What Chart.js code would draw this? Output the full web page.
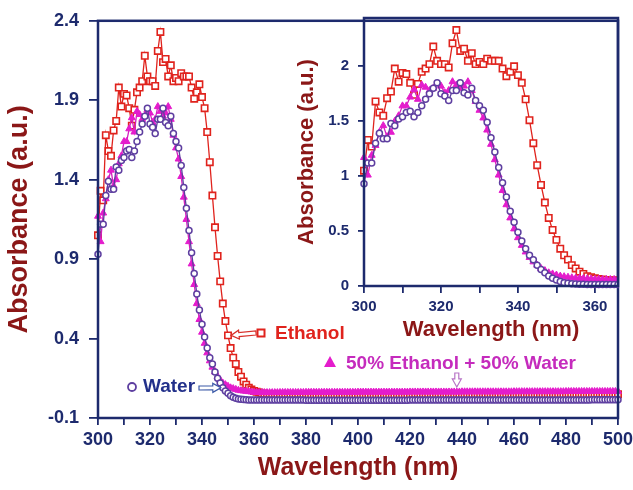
<!DOCTYPE html>
<html>
<head>
<meta charset="utf-8">
<script src="https://cdn.jsdelivr.net/npm/chart.js@4/dist/chart.umd.min.js"></script>
<style>
  html, body { margin: 0; padding: 0; background: #fff; }
  #wrap { position: relative; width: 633px; height: 490px; }
  #mainChart { position: absolute; left: 0; top: 0; }
  #insetChart { position: absolute; left: 280px; top: 0; }
</style>
</head>
<body>
<div id="wrap">
  <canvas id="mainChart" width="633" height="490"></canvas>
  <canvas id="insetChart" width="353" height="350"></canvas>
</div>
<script>
// UV-vis spectra, one reading per nm
const wavelengths = [
  300, 301, 302, 303, 304, 305, 306, 307, 308, 309, 310, 311, 312, 313, 314, 315, 316, 317, 318, 319,
  320, 321, 322, 323, 324, 325, 326, 327, 328, 329, 330, 331, 332, 333, 334, 335, 336, 337, 338, 339,
  340, 341, 342, 343, 344, 345, 346, 347, 348, 349, 350, 351, 352, 353, 354, 355, 356, 357, 358, 359,
  360, 361, 362, 363, 364, 365, 366, 367, 368, 369, 370, 371, 372, 373, 374, 375, 376, 377, 378, 379,
  380, 381, 382, 383, 384, 385, 386, 387, 388, 389, 390, 391, 392, 393, 394, 395, 396, 397, 398, 399,
  400, 401, 402, 403, 404, 405, 406, 407, 408, 409, 410, 411, 412, 413, 414, 415, 416, 417, 418, 419,
  420, 421, 422, 423, 424, 425, 426, 427, 428, 429, 430, 431, 432, 433, 434, 435, 436, 437, 438, 439,
  440, 441, 442, 443, 444, 445, 446, 447, 448, 449, 450, 451, 452, 453, 454, 455, 456, 457, 458, 459,
  460, 461, 462, 463, 464, 465, 466, 467, 468, 469, 470, 471, 472, 473, 474, 475, 476, 477, 478, 479,
  480, 481, 482, 483, 484, 485, 486, 487, 488, 489, 490, 491, 492, 493, 494, 495, 496, 497, 498, 499,
  500
];

const ethanolAbs = [
  1.05, 1.33, 1.27, 1.68, 1.58, 1.55, 1.71, 1.77, 1.98, 1.86,
  1.94, 1.93, 1.85, 1.74, 1.84, 1.95, 1.98, 2.02, 2.18, 2.05,
  2.02, 2.02, 1.99, 2.21, 2.33, 2.14, 2.16, 2.05, 2.12, 2.02,
  2.04, 2.02, 2.07, 2.05, 2.05, 2.05, 1.98, 1.91, 1.95, 2.00,
  1.92, 1.85, 1.70, 1.51, 1.30, 1.10, 0.92, 0.76, 0.62, 0.51,
  0.42, 0.34, 0.28, 0.24, 0.19, 0.16, 0.13, 0.11, 0.09, 0.08,
  0.070, 0.065, 0.060, 0.055, 0.052, 0.050, 0.050, 0.049, 0.048, 0.047,
  0.046, 0.046, 0.045, 0.045, 0.045, 0.045, 0.045, 0.045, 0.045, 0.045,
  0.045, 0.045, 0.045, 0.045, 0.045, 0.045, 0.045, 0.045, 0.045, 0.045,
  0.045, 0.045, 0.045, 0.045, 0.045, 0.045, 0.045, 0.045, 0.045, 0.045,
  0.045, 0.045, 0.045, 0.045, 0.045, 0.045, 0.045, 0.045, 0.045, 0.045,
  0.045, 0.045, 0.045, 0.045, 0.045, 0.045, 0.045, 0.045, 0.045, 0.045,
  0.045, 0.045, 0.045, 0.045, 0.045, 0.045, 0.045, 0.045, 0.045, 0.045,
  0.045, 0.045, 0.045, 0.045, 0.045, 0.045, 0.045, 0.045, 0.045, 0.045,
  0.046, 0.046, 0.046, 0.046, 0.046, 0.046, 0.046, 0.046, 0.046, 0.046,
  0.046, 0.046, 0.046, 0.046, 0.046, 0.046, 0.046, 0.046, 0.046, 0.046,
  0.047, 0.047, 0.047, 0.047, 0.047, 0.047, 0.047, 0.047, 0.047, 0.047,
  0.047, 0.047, 0.047, 0.047, 0.047, 0.047, 0.047, 0.047, 0.047, 0.047,
  0.048, 0.048, 0.048, 0.048, 0.048, 0.048, 0.048, 0.048, 0.048, 0.048,
  0.049, 0.049, 0.049, 0.049, 0.049, 0.049, 0.049, 0.049, 0.049, 0.049,
  0.050
];

const mixAbs = [
  1.17, 1.01, 1.19, 1.28, 1.40, 1.46, 1.36, 1.40, 1.50, 1.55,
  1.64, 1.64, 1.72, 1.79, 1.70, 1.83, 1.81, 1.78, 1.80, 1.84,
  1.82, 1.76, 1.78, 1.86, 1.83, 1.80, 1.82, 1.86, 1.78, 1.68,
  1.60, 1.53, 1.42, 1.29, 1.15, 1.01, 0.87, 0.74, 0.62, 0.52,
  0.44, 0.37, 0.31, 0.26, 0.22, 0.19, 0.16, 0.14, 0.12, 0.11,
  0.100, 0.090, 0.085, 0.080, 0.075, 0.072, 0.070, 0.068, 0.066, 0.064,
  0.062, 0.061, 0.060, 0.060, 0.060, 0.060, 0.060, 0.060, 0.060, 0.060,
  0.061, 0.061, 0.061, 0.061, 0.061, 0.061, 0.061, 0.061, 0.061, 0.061,
  0.062, 0.062, 0.062, 0.062, 0.062, 0.062, 0.062, 0.062, 0.062, 0.062,
  0.062, 0.062, 0.062, 0.062, 0.062, 0.062, 0.062, 0.062, 0.062, 0.062,
  0.063, 0.063, 0.063, 0.063, 0.063, 0.063, 0.063, 0.063, 0.063, 0.063,
  0.063, 0.063, 0.063, 0.063, 0.063, 0.063, 0.063, 0.063, 0.063, 0.063,
  0.064, 0.064, 0.064, 0.064, 0.064, 0.064, 0.064, 0.064, 0.064, 0.064,
  0.064, 0.064, 0.064, 0.064, 0.064, 0.064, 0.064, 0.064, 0.064, 0.064,
  0.065, 0.065, 0.065, 0.065, 0.065, 0.065, 0.065, 0.065, 0.065, 0.065,
  0.065, 0.065, 0.065, 0.065, 0.065, 0.065, 0.065, 0.065, 0.065, 0.065,
  0.066, 0.066, 0.066, 0.066, 0.066, 0.066, 0.066, 0.066, 0.066, 0.066,
  0.066, 0.066, 0.066, 0.066, 0.066, 0.066, 0.066, 0.066, 0.066, 0.066,
  0.067, 0.067, 0.067, 0.067, 0.067, 0.067, 0.067, 0.067, 0.067, 0.067,
  0.067, 0.067, 0.067, 0.067, 0.067, 0.067, 0.067, 0.067, 0.067, 0.067,
  0.068
];

const waterAbs = [
  0.93, 1.12, 1.12, 1.30, 1.39, 1.34, 1.34, 1.48, 1.46, 1.52,
  1.54, 1.58, 1.59, 1.54, 1.58, 1.64, 1.70, 1.75, 1.80, 1.85,
  1.75, 1.73, 1.69, 1.78, 1.78, 1.85, 1.76, 1.74, 1.80, 1.69,
  1.64, 1.60, 1.49, 1.35, 1.22, 1.08, 0.94, 0.81, 0.68, 0.58,
  0.49, 0.41, 0.34, 0.28, 0.24, 0.19, 0.15, 0.12, 0.09, 0.07,
  0.055, 0.040, 0.030, 0.025, 0.020, 0.018, 0.016, 0.015, 0.014, 0.014,
  0.013, 0.013, 0.013, 0.013, 0.013, 0.013, 0.013, 0.013, 0.013, 0.013,
  0.013, 0.013, 0.013, 0.013, 0.013, 0.013, 0.013, 0.013, 0.013, 0.013,
  0.012, 0.012, 0.012, 0.012, 0.012, 0.012, 0.012, 0.012, 0.012, 0.012,
  0.012, 0.012, 0.012, 0.012, 0.012, 0.012, 0.012, 0.012, 0.012, 0.012,
  0.012, 0.012, 0.012, 0.012, 0.012, 0.012, 0.012, 0.012, 0.012, 0.012,
  0.012, 0.012, 0.012, 0.012, 0.012, 0.012, 0.012, 0.012, 0.012, 0.012,
  0.013, 0.013, 0.013, 0.013, 0.013, 0.013, 0.013, 0.013, 0.013, 0.013,
  0.013, 0.013, 0.013, 0.013, 0.013, 0.013, 0.013, 0.013, 0.013, 0.013,
  0.013, 0.013, 0.013, 0.013, 0.013, 0.013, 0.013, 0.013, 0.013, 0.013,
  0.013, 0.013, 0.013, 0.013, 0.013, 0.013, 0.013, 0.013, 0.013, 0.013,
  0.014, 0.014, 0.014, 0.014, 0.014, 0.014, 0.014, 0.014, 0.014, 0.014,
  0.014, 0.014, 0.014, 0.014, 0.014, 0.014, 0.014, 0.014, 0.014, 0.014,
  0.014, 0.014, 0.014, 0.014, 0.014, 0.014, 0.014, 0.014, 0.014, 0.014,
  0.015, 0.015, 0.015, 0.015, 0.015, 0.015, 0.015, 0.015, 0.015, 0.015,
  0.015
];

const mainYTicks = [-0.1, 0.4, 0.9, 1.4, 1.9, 2.4];
const insetXTicks = [300, 310, 320, 330, 340, 350, 360];
const insetYTicks = [0, 0.5, 1, 1.5, 2];

const NAVY = '#1d2a6d';
const TITLE_RED = '#8b1717';
const FAMILY = "'Liberation Sans', Arial, sans-serif";

function points(vals) {
  return wavelengths.map((w, i) => ({ x: w, y: vals[i] }));
}

function spectra(clip) {
  return [
    {
      label: 'Water', data: points(waterAbs),
      borderColor: '#5b3d9d', borderWidth: 1.3,
      pointStyle: 'circle', pointRadius: 3, pointBorderWidth: 1.5,
      pointBorderColor: '#5e3fa0', pointBackgroundColor: '#fff', clip
    },
    {
      label: '50% Ethanol + 50% Water', data: points(mixAbs),
      borderColor: '#d21fbe', borderWidth: 1.3,
      pointStyle: 'triangle', pointRadius: 4, pointBorderWidth: 1,
      pointBorderColor: '#e41ccc', pointBackgroundColor: '#e41ccc', clip
    },
    {
      label: 'Ethanol', data: points(ethanolAbs),
      borderColor: '#e0231d', borderWidth: 1.3,
      pointStyle: 'rect', pointRadius: 4.5, pointBorderWidth: 1.6,
      pointBorderColor: '#e0231d', pointBackgroundColor: '#fff', clip
    }
  ];
}

// closed box round the plot area
const frame = {
  id: 'frame',
  afterDatasetsDraw(chart) {
    const { ctx, chartArea: a } = chart;
    ctx.save();
    ctx.strokeStyle = NAVY;
    ctx.lineWidth = 2.5;
    ctx.strokeRect(a.left, a.top, a.right - a.left, a.bottom - a.top);
    ctx.restore();
  }
};

function hollowArrow(ctx, x0, y0, x1, y1, color) {
  const ang = Math.atan2(y1 - y0, x1 - x0);
  const len = Math.hypot(x1 - x0, y1 - y0);
  const head = 8, hw = 4.5, sw = 2;
  ctx.save();
  ctx.translate(x0, y0);
  ctx.rotate(ang);
  ctx.beginPath();
  ctx.moveTo(0, -sw);
  ctx.lineTo(len - head, -sw);
  ctx.lineTo(len - head, -hw);
  ctx.lineTo(len, 0);
  ctx.lineTo(len - head, hw);
  ctx.lineTo(len - head, sw);
  ctx.lineTo(0, sw);
  ctx.closePath();
  ctx.fillStyle = '#fff';
  ctx.fill();
  ctx.strokeStyle = color;
  ctx.lineWidth = 1.2;
  ctx.stroke();
  ctx.restore();
}

// curve labels with arrows pointing at each spectrum
const curveLabels = {
  id: 'curveLabels',
  afterDraw(chart) {
    const { ctx } = chart;
    const xs = chart.scales.x, ys = chart.scales.y;
    const at = (nm, arr) => ({ x: xs.getPixelForValue(nm), y: ys.getPixelForValue(arr[wavelengths.indexOf(nm)]) });
    ctx.save();
    ctx.font = 'bold 19px ' + FAMILY;
    ctx.textBaseline = 'middle';

    // Ethanol
    const e = at(350, ethanolAbs);
    hollowArrow(ctx, 256, 333, e.x + 3, e.y, '#d8302a');
    ctx.strokeStyle = '#e0231d';
    ctx.lineWidth = 2;
    ctx.fillStyle = '#fff';
    ctx.fillRect(257.5, 329.5, 7, 7);
    ctx.strokeRect(257.5, 329.5, 7, 7);
    ctx.fillStyle = '#e0231d';
    ctx.fillText('Ethanol', 275, 334);

    // 50% Ethanol + 50% Water
    ctx.fillStyle = '#e41ccc';
    ctx.beginPath();
    ctx.moveTo(330, 356);
    ctx.lineTo(336, 367);
    ctx.lineTo(324, 367);
    ctx.closePath();
    ctx.fill();
    ctx.fillStyle = '#c52bbd';
    ctx.fillText('50% Ethanol + 50% Water', 346, 364);
    const m = at(438, mixAbs);
    hollowArrow(ctx, m.x, 373, m.x, m.y - 5, '#b774c6');

    // Water
    const w = at(348, waterAbs);
    hollowArrow(ctx, 199, 388, w.x - 2, w.y, '#3c5aa8');
    ctx.strokeStyle = '#5e3fa0';
    ctx.lineWidth = 1.8;
    ctx.beginPath();
    ctx.arc(132, 387, 4, 0, Math.PI * 2);
    ctx.stroke();
    ctx.fillStyle = '#22308a';
    ctx.fillText('Water', 143, 387);
    ctx.restore();
  }
};

const tickGrid = (len) => ({
  drawOnChartArea: false, drawTicks: true, tickLength: len, color: NAVY, lineWidth: 1.8
});

new Chart(document.getElementById('mainChart'), {
  type: 'line',
  data: { datasets: spectra(false) },
  options: {
    responsive: false,
    animation: false,
    layout: { padding: { top: 18, right: 15 } },
    plugins: { legend: { display: false }, tooltip: { enabled: false } },
    scales: {
      x: {
        type: 'linear', min: 300, max: 500,
        border: { display: false },
        grid: tickGrid(7),
        ticks: {
          stepSize: 10, autoSkip: false, maxRotation: 0, padding: 4, color: NAVY,
          font: { family: FAMILY, size: 18, weight: 'bold' },
          callback: v => (v % 20 === 0 ? v : '')
        },
        title: {
          display: true, text: 'Wavelength (nm)', color: TITLE_RED,
          font: { family: FAMILY, size: 25, weight: 'bold' },
          padding: { top: 0, bottom: 7 }
        },
        afterFit(s) { s.height = 72; s.paddingLeft = 0; s.paddingRight = 0; }
      },
      y: {
        min: -0.1, max: 2.4,
        border: { display: false },
        grid: tickGrid(9),
        afterBuildTicks(s) { s.ticks = mainYTicks.map(value => ({ value })); },
        ticks: {
          padding: 10, color: NAVY,
          font: { family: FAMILY, size: 18, weight: 'bold' },
          callback: v => v.toFixed(1)
        },
        title: {
          display: true, text: 'Absorbance (a.u.)', color: TITLE_RED,
          font: { family: FAMILY, size: 27, weight: 'bold' },
          padding: { top: 3, bottom: 0 }
        },
        afterFit(s) { s.width = 98; }
      }
    }
  },
  plugins: [frame, curveLabels]
});

new Chart(document.getElementById('insetChart'), {
  type: 'line',
  data: { datasets: spectra({ left: 8, top: 8, right: 1, bottom: 8 }) },
  options: {
    responsive: false,
    animation: false,
    layout: { padding: { top: 18, right: 15 } },
    plugins: { legend: { display: false }, tooltip: { enabled: false } },
    scales: {
      x: {
        type: 'linear', min: 300, max: 366,
        border: { display: false },
        grid: tickGrid(7),
        afterBuildTicks(s) { s.ticks = insetXTicks.map(value => ({ value })); },
        ticks: {
          autoSkip: false, maxRotation: 0, padding: 5, color: NAVY,
          font: { family: FAMILY, size: 15, weight: 'bold' },
          callback: v => (v % 20 === 0 ? v : '')
        },
        title: {
          display: true, text: 'Wavelength (nm)', color: TITLE_RED,
          font: { family: FAMILY, size: 22, weight: 'bold' },
          padding: { top: 0, bottom: 7 }
        },
        afterFit(s) { s.height = 64; s.paddingLeft = 0; s.paddingRight = 0; }
      },
      y: {
        min: 0, max: 2.44,
        border: { display: false },
        grid: tickGrid(6),
        afterBuildTicks(s) { s.ticks = insetYTicks.map(value => ({ value })); },
        ticks: {
          padding: 9, color: NAVY,
          font: { family: FAMILY, size: 15, weight: 'bold' },
          callback: v => String(v)
        },
        title: {
          display: true, text: 'Absorbance (a.u.)', color: TITLE_RED,
          font: { family: FAMILY, size: 22, weight: 'bold' },
          padding: { top: 14, bottom: 0 }
        },
        afterFit(s) { s.width = 84; }
      }
    }
  },
  plugins: [frame]
});
</script>
</body>
</html>
